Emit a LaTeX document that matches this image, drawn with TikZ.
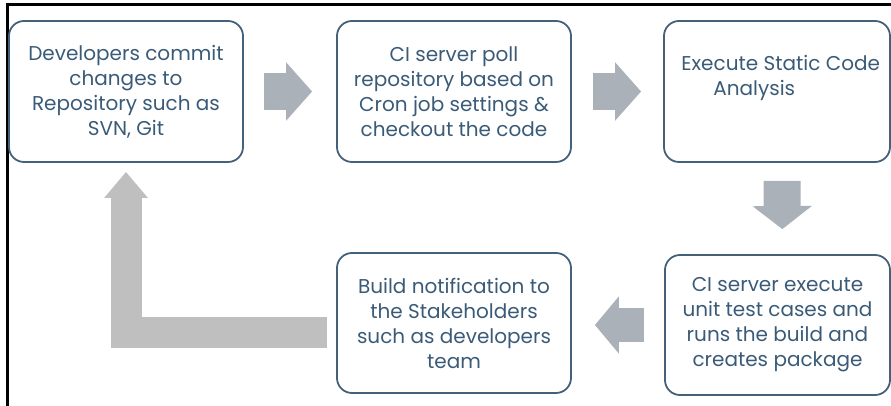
\documentclass[tikz,border=0pt]{standalone}
\usepackage{fontspec}
\setmainfont{Poppins}
\usepackage{tikz}
\usetikzlibrary{arrows.meta}

\definecolor{boxline}{HTML}{45617A}
\definecolor{boxtext}{HTML}{3A5B78}
\definecolor{flowgray}{HTML}{AAB1B8}
\definecolor{backgray}{HTML}{BFBFBF}

\begin{document}
\begin{tikzpicture}[x=0.5pt, y=-0.5pt]
  \tikzset{box/.style={draw=boxline, line width=0.9pt, rounded corners=7.5pt,
                       minimum width=117pt, minimum height=70.5pt, inner sep=0pt,
                       align=center, text=boxtext, font=\fontsize{10}{12.5}\selectfont},
           flow/.style={flowgray, line width=18.5pt,
                        -{Triangle[width=28.5pt, length=13pt]}}}

  \useasboundingbox (0,0) rectangle (891,406);
  \draw [line width=1.5pt] (7,406) -- (7,5) -- (891,5);

  \node [box] (dev) at (126,91.5)
        {Developers commit\\changes to\\Repository such as\\SVN, Git};
  \node [box] (poll) at (454,91.5)
        {CI server poll\\repository based on\\Cron job settings \&\\checkout the code};
  \node [box, minimum width=113pt] (sca) at (777,91.5) {};
  \node [box, minimum width=112.5pt, minimum height=70pt] (run) at (777.5,325)
        {CI server execute\\unit test cases and\\runs the build and\\creates package};
  \node [box, minimum height=70pt] (notify) at (454,323)
        {Build notification to\\the Stakeholders\\such as developers\\team};
  \node [anchor=north west, inner sep=0pt, align=left, text=boxtext,
         font=\fontsize{10}{12.5}\selectfont] (scatext) at (681,55)
        {Execute Static Code\\\hspace*{16pt}Analysis};

  \draw [flow, shorten <=10pt, shorten >=12pt] (dev) -- (poll);
  \draw [flow, shorten <=10.5pt, shorten >=11pt] (poll) -- (sca);
  \draw [flowgray, line width=18.5pt, -{Triangle[width=29pt, length=11.5pt]},
         shorten <=9pt, shorten >=12.5pt]
        ([xshift=2.5pt]sca.south) -- ([xshift=2.5pt]run.north);
  \draw [flowgray, line width=17pt, -{Triangle[width=28pt, length=12pt]},
         shorten <=10pt, shorten >=11.5pt]
        (run.west) -- (run.west -| notify.east);

  \draw [backgray, line width=15.5pt, -{Triangle[width=21pt, length=13pt]},
         shorten <=4.5pt, shorten >=4.5pt]
        ([yshift=-4.75pt]notify.west) -| (dev.south);
\end{tikzpicture}
\end{document}
